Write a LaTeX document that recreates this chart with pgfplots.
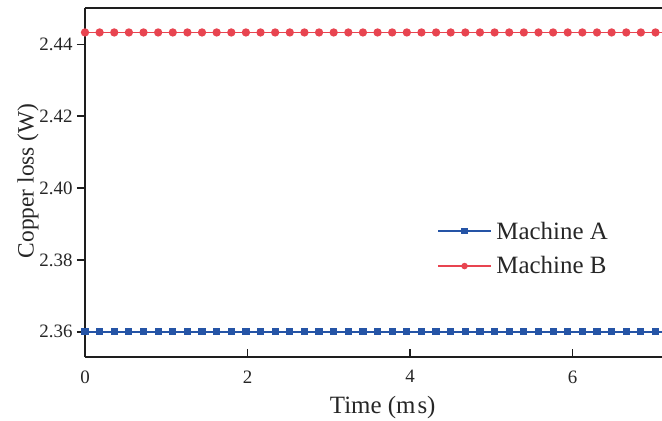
\documentclass[border=0pt]{standalone}
\usepackage{pgfplots}
\pgfplotsset{compat=1.18}
\usepackage{pgfplotstable}
\usepackage{fontspec}
\setmainfont{Liberation Serif}
\definecolor{cblue}{RGB}{37,84,166}
\definecolor{cred}{RGB}{232,68,80}
\definecolor{spine}{RGB}{30,30,30}
\pgfplotstableread{
x a b
0 2.36 2.4433
0.18 2.36 2.4433
0.36 2.36 2.4433
0.54 2.36 2.4433
0.72 2.36 2.4433
0.9 2.36 2.4433
1.08 2.36 2.4433
1.26 2.36 2.4433
1.44 2.36 2.4433
1.62 2.36 2.4433
1.8 2.36 2.4433
1.98 2.36 2.4433
2.16 2.36 2.4433
2.34 2.36 2.4433
2.52 2.36 2.4433
2.7 2.36 2.4433
2.88 2.36 2.4433
3.06 2.36 2.4433
3.24 2.36 2.4433
3.42 2.36 2.4433
3.6 2.36 2.4433
3.78 2.36 2.4433
3.96 2.36 2.4433
4.14 2.36 2.4433
4.32 2.36 2.4433
4.5 2.36 2.4433
4.68 2.36 2.4433
4.86 2.36 2.4433
5.04 2.36 2.4433
5.22 2.36 2.4433
5.4 2.36 2.4433
5.58 2.36 2.4433
5.76 2.36 2.4433
5.94 2.36 2.4433
6.12 2.36 2.4433
6.3 2.36 2.4433
6.48 2.36 2.4433
6.66 2.36 2.4433
6.84 2.36 2.4433
7.02 2.36 2.4433
7.2 2.36 2.4433
}\datatable
\begin{document}
\begin{tikzpicture}
\useasboundingbox (-85bp,-64bp) rectangle (577bp,357bp);
\begin{axis}[
  at={(0,0)}, anchor=south west,
  scale only axis, width=577bp, height=349bp,
  xmin=0, xmax=7.1, ymin=2.353, ymax=2.4501,
  axis x line=box, axis y line=left,
  x axis line style={-}, y axis line style={-},
  axis line style={line width=2.2bp, draw=spine},
  xtick={0,2,4,6}, ytick={2.36,2.38,2.40,2.42,2.44},
  xtick pos=bottom, ytick pos=left,
  tick align=inside, major tick length=8bp,
  x tick style={line width=1.4bp, draw=spine},
  y tick style={line width=1.4bp, draw=spine, xshift=-8bp},
  yticklabel style={/pgf/number format/fixed, /pgf/number format/fixed zerofill, /pgf/number format/precision=2, /pgf/number format/assume math mode=true},
  xticklabel style={/pgf/number format/assume math mode=true},
  tick label style={font=\fontsize{19}{22}\selectfont, text=black!85},
  xticklabel style={yshift=-10bp},
  yticklabel style={xshift=-9bp},
  xlabel={Time (m\hspace{2bp}s)}, ylabel={Copper loss (W)},
  label style={text=black!85},
  xlabel style={font=\fontsize{25}{29}\selectfont, anchor=center, at={(axis description cs:0.516,-0.146)}},
  ylabel style={font=\fontsize{23.5}{27}\selectfont, anchor=center, at={(axis description cs:-0.099,0.505)}},
  clip=false,
  legend style={at={(axis description cs:0.61,0.392)}, anchor=north west, draw=none, fill=none,
    inner sep=0pt, row sep=13bp, font=\fontsize{25}{29}\selectfont, text=black!85,
    nodes={inner sep=1.5bp, anchor=west}},
  legend cell align=left,
  legend image code/.code={\draw[#1, mark size=2.3bp, mark repeat=2,mark phase=2] plot coordinates {(0bp,0bp) (26.5bp,0bp) (53bp,0bp)};},
]
\addplot[color=cblue, line width=1.8bp, mark=square*, mark size=2.7bp, mark options={solid}] table[x=x,y=a]{\datatable};
\addlegendentry{\hspace{3bp}Machine A}
\addplot[color=cred, line width=1.8bp, mark=*, mark size=3.2bp, mark options={solid}] table[x=x,y=b]{\datatable};
\addlegendentry{\hspace{3bp}Machine B}
\end{axis}
\end{tikzpicture}
\end{document}
